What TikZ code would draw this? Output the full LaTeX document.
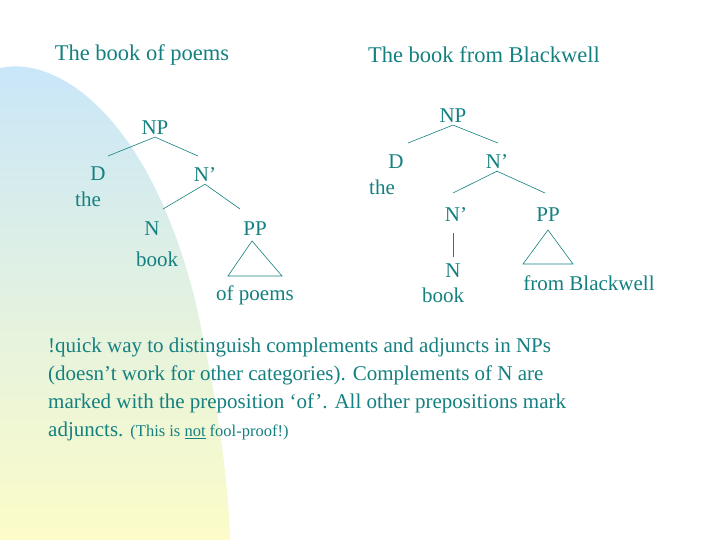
\documentclass[tikz,border=0pt]{standalone}
\usepackage{fontspec}
\setmainfont{Liberation Serif}
\definecolor{tealtext}{RGB}{20,128,128}
\definecolor{skyblue}{RGB}{200,230,250}
\definecolor{paleyellow}{RGB}{252,252,200}
\begin{document}
\begin{tikzpicture}[x=1pt,y=-1pt,
    cat/.style={text=tealtext,font=\fontsize{21}{26}\selectfont,inner sep=2pt},
    branch/.style={draw=tealtext,line width=0.6pt}]
    % background
    \useasboundingbox (0,0) rectangle (720,540);
    \fill[white] (0,0) rectangle (720,540);
    \shade[top color=skyblue,bottom color=paleyellow]
        (0,68) .. controls (60,55) and (150,120) .. (195,300)
        .. controls (215,390) and (228,470) .. (230,540) -- (0,540) -- cycle;

    % titles
    \node[cat,font=\fontsize{22.5}{26}\selectfont] (t1) at (142,55) {The book of poems};
    \node[cat,font=\fontsize{22.5}{26}\selectfont] (t2) at (484,55) {The book from Blackwell};

    % left tree
    \node[cat] (np1) at (155,128) {NP};
    \node[cat] (d1) at (98,174) {D};
    \node[cat] (the1) at (88,199) {the};
    \node[cat] (nb1) at (205,175) {N’};
    \node[cat] (n1) at (152,229) {N};
    \node[cat] (book1) at (157,259) {book};
    \node[cat] (pp1) at (255,229) {PP};
    \node[cat] (of1) at (255,295) {of poems};
    \coordinate (tl1) at (228,276);
    \coordinate (tr1) at (282,276);
    \coordinate (ta1) at (252,241);
    \draw[branch] (108,156) -- (np1.south) -- (198,156);
    \draw[branch] (163,209) -- (nb1.south) -- (240,209);
    \draw[branch] (ta1) -- (tl1) -- (tr1) -- cycle;

    % right tree
    \node[cat] (np2) at (453,116) {NP};
    \node[cat] (d2) at (396,162) {D};
    \node[cat] (the2) at (382,187) {the};
    \node[cat] (nb2) at (497,162) {N’};
    \node[cat] (nc2) at (456,215) {N’};
    \node[cat] (n2) at (453,271) {N};
    \node[cat] (book2) at (443,295) {book};
    \node[cat] (pp2) at (548,215) {PP};
    \node[cat] (fb2) at (589,283) {from Blackwell};
    \coordinate (tl2) at (523,264);
    \coordinate (tr2) at (573,264);
    \coordinate (ta2) at (548,230);
    \draw[branch] (408,143) -- (np2.south) -- (498,143);
    \draw[branch] (453,193) -- (nb2.south) -- (545,193);
    \draw[branch] (453,233) -- (453,257);
    \draw[branch] (ta2) -- (tl2) -- (tr2) -- cycle;

    % remark
    \node[cat,anchor=north west,align=left,font=\fontsize{21}{28}\selectfont] (note) at (46,336)
        {!quick way to distinguish complements and adjuncts in NPs\\
         (doesn’t work for other categories). Complements of N are\\
         marked with the preposition ‘of’. All other prepositions mark\\
         adjuncts. {\fontsize{16.5}{20}\selectfont(This is \underline{not} fool-proof!)}};
\end{tikzpicture}
\end{document}
